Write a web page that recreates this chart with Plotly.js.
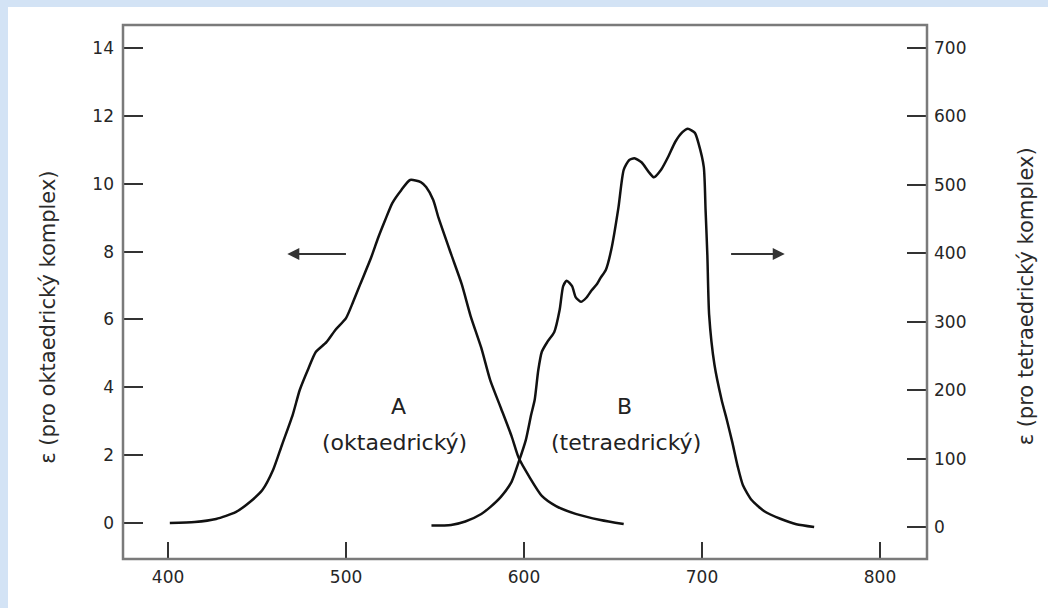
<!DOCTYPE html>
<html>
<head>
<meta charset="utf-8">
<script src="https://cdn.plot.ly/plotly-3.0.1.min.js"></script>
<style>
  html, body { margin: 0; padding: 0; width: 1048px; height: 608px; overflow: hidden; background: #d3e3f5; }
  #chart { position: absolute; left: 8px; top: 7px; width: 1040px; height: 601px; }
</style>
</head>
<body>
<div id="chart"></div>
<script>
// Curve A: octahedral complex (left axis)
const wavelengthA = [401, 415, 427, 438, 446, 453, 459, 464, 470, 474, 479, 483, 489, 494, 500, 504, 508, 514, 518, 522, 526, 531, 536, 542, 545, 549, 552, 559, 565, 570, 576, 581, 587, 593, 597, 603, 610, 618, 629, 643, 656];
const epsilonA = [0, 0.03, 0.12, 0.32, 0.62, 0.97, 1.56, 2.30, 3.18, 3.92, 4.57, 5.04, 5.33, 5.69, 6.04, 6.52, 7.04, 7.81, 8.40, 8.93, 9.43, 9.81, 10.11, 10.05, 9.90, 9.52, 8.99, 7.93, 7.04, 6.10, 5.16, 4.21, 3.39, 2.56, 1.92, 1.36, 0.80, 0.50, 0.27, 0.09, -0.03];

// Curve B: tetrahedral complex (right axis)
const wavelengthB = [548, 559, 567, 576, 581, 587, 593, 597, 601, 604, 606, 608, 610, 613, 617, 620, 622, 624, 627, 629, 632, 635, 638, 641, 643, 646, 649, 653, 656, 659, 662, 666, 670, 673, 677, 681, 685, 689, 692, 696, 698, 701, 702, 703, 704, 707, 711, 714, 717, 720, 723, 728, 735, 744, 753, 763];
const epsilonB = [2, 3, 8, 19, 29, 44, 66, 95, 127, 164, 186, 229, 256, 270, 285, 317, 352, 360, 352, 336, 329, 335, 346, 355, 364, 376, 405, 466, 522, 536, 539, 533, 519, 511, 522, 541, 563, 577, 582, 576, 561, 526, 463, 397, 310, 237, 186, 156, 124, 89, 61, 39, 23, 12, 4, 0];

const xTicks = [400, 500, 600, 700, 800];
const yLeftTicks = [0, 2, 4, 6, 8, 10, 12, 14];
const yRightTicks = [0, 100, 200, 300, 400, 500, 600, 700];

const leftTitle = "ε (pro oktaedrický komplex)";
const rightTitle = "ε (pro tetraedrický komplex)";
const labelA = ["A", "(oktaedrický)"];
const labelB = ["B", "(tetraedrický)"];

const FONT = "DejaVu Sans, Verdana, sans-serif";
const lineStyle = { color: "#111", width: 2.5, shape: "spline", smoothing: 0.6 };

const traces = [
  { x: wavelengthA, y: epsilonA, type: "scatter", mode: "lines", line: lineStyle, yaxis: "y", hoverinfo: "skip" },
  { x: wavelengthB, y: epsilonB, type: "scatter", mode: "lines", line: lineStyle, yaxis: "y2", hoverinfo: "skip" }
];

const tickFont = { family: FONT, size: 17, color: "#262626" };
const titleFont = { family: FONT, size: 21, color: "#2a2a2a" };
const labelFont = { family: FONT, size: 22, color: "#222" };

const layout = {
  width: 1040, height: 601,
  paper_bgcolor: "#ffffff", plot_bgcolor: "#ffffff",
  margin: { l: 115, r: 121, t: 18, b: 49 },
  showlegend: false,
  font: { family: FONT, color: "#2a2a2a" },
  xaxis: {
    range: [374.7, 826.4], tickvals: xTicks, ticktext: xTicks.map(String),
    ticks: "inside", ticklen: 17, tickwidth: 2, tickcolor: "#333",
    showline: false, showgrid: false, zeroline: false, tickfont: tickFont, ticklabelstandoff: 6
  },
  yaxis: {
    range: [-1.061, 14.678], tickvals: yLeftTicks, ticktext: yLeftTicks.map(String),
    ticks: "inside", ticklen: 20, tickwidth: 2, tickcolor: "#333",
    showline: false, showgrid: false, zeroline: false, tickfont: tickFont, ticklabelstandoff: 8
  },
  yaxis2: {
    overlaying: "y", side: "right",
    range: [-46.8, 733.6], tickvals: yRightTicks, ticktext: yRightTicks.map(String),
    ticks: "inside", ticklen: 20, tickwidth: 2, tickcolor: "#333",
    showline: false, showgrid: false, zeroline: false, tickfont: tickFont, ticklabelstandoff: 6
  },
  shapes: [
    { type: "rect", xref: "paper", yref: "paper", x0: 0, x1: 1, y0: 0, y1: 1,
      line: { color: "#7a7a7a", width: 2.5 }, fillcolor: "rgba(0,0,0,0)", layer: "above" }
  ],
  annotations: [
    { x: -0.11, y: 0.453, xref: "paper", yref: "paper", text: leftTitle, textangle: -90, showarrow: false, font: titleFont },
    { x: 1.14, y: 0.491, xref: "paper", yref: "paper", text: rightTitle, textangle: -90, showarrow: false, font: titleFont },
    { x: 529.6, y: 3.42, xref: "x", yref: "y", text: labelA[0], showarrow: false, font: labelFont },
    { x: 527.3, y: 2.36, xref: "x", yref: "y", text: labelA[1], showarrow: false, font: labelFont },
    { x: 656.3, y: 3.42, xref: "x", yref: "y", text: labelB[0], showarrow: false, font: labelFont },
    { x: 657.5, y: 2.36, xref: "x", yref: "y", text: labelB[1], showarrow: false, font: labelFont },
    { x: 467.0, y: 7.93, ax: 500.8, ay: 7.93, xref: "x", yref: "y", axref: "x", ayref: "y", text: "",
      showarrow: true, arrowhead: 2, arrowsize: 1.2, arrowwidth: 2, arrowcolor: "#333" },
    { x: 746.5, y: 7.93, ax: 715.5, ay: 7.93, xref: "x", yref: "y", axref: "x", ayref: "y", text: "",
      showarrow: true, arrowhead: 2, arrowsize: 1.2, arrowwidth: 2, arrowcolor: "#333" }
  ]
};

Plotly.newPlot("chart", traces, layout, { staticPlot: true, displayModeBar: false });
</script>
</body>
</html>
